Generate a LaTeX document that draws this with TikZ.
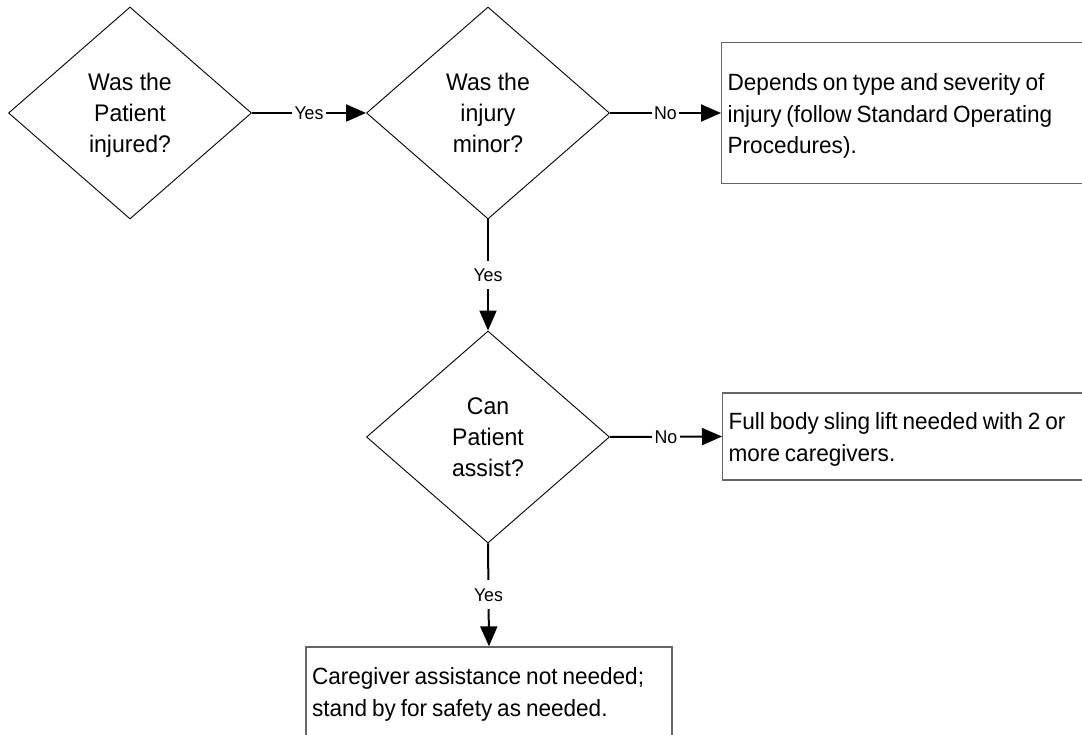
\documentclass[tikz,border=0pt]{standalone}
\usepackage{fontspec}
\setmainfont{Liberation Sans}[FakeStretch=0.96]
\usetikzlibrary{shapes.geometric,arrows.meta}

\tikzset{
  decision/.style={diamond, draw=black, line width=0.9pt, minimum width=243pt,
    minimum height=212pt, inner sep=0pt, align=center, text depth=0pt,
    font=\fontsize{24}{31}\selectfont},
  outcome/.style={rectangle, draw=black!60, line width=1.3pt, inner xsep=6pt,
    inner ysep=0pt, align=left, font=\fontsize{23.5}{31.5}\selectfont,
    execute at begin node={\spaceskip=0.21em\relax\rule{0pt}{23pt}}},
  flow/.style={-{Triangle[length=20pt,width=17pt]}, line width=2pt},
  answer/.style={fill=white, inner xsep=2.5pt, inner ysep=8pt,
    font=\fontsize{18.5}{22}\selectfont},
}

\begin{document}
\begin{tikzpicture}[x=1pt, y=-1pt]
    \def \boxw {400pt} % text width of the boxes on the right
    \clip (0,0) rectangle (1082,735);
    % questions
    \node[decision] (injured) at (130,113) {Was the\\Patient\\injured?};
    \node[decision] (minor) at (488,113) {Was the\\injury\\minor?};
    \node[decision] (assist) at (488,437) {Can\\Patient\\assist?};
    % outcomes
    \node[outcome, anchor=west, text width=\boxw, minimum height=141pt] (sop) at (721,113)
      {Depends on type and severity of\\injury (follow Standard Operating\\Procedures).};
    \node[outcome, anchor=west, text width=\boxw, minimum height=87pt] (sling) at (722,436.5)
      {Full body sling lift needed with 2 or\\more caregivers.};
    \node[outcome, text width=354pt, minimum height=89pt] (standby) at (489,691.5)
      {Caregiver assistance not needed;\\stand by for safety as needed.};
    % answers
    \foreach \from/\to/\ans in {injured.east/minor.west/Yes, minor.east/sop.west/No,
      minor.south/assist.north/Yes, assist.east/sling.west/No, assist.south/standby.north/Yes}
    {
      \draw[flow] (\from) -- node[answer] {\ans} (\to);
    }
\end{tikzpicture}
\end{document}
